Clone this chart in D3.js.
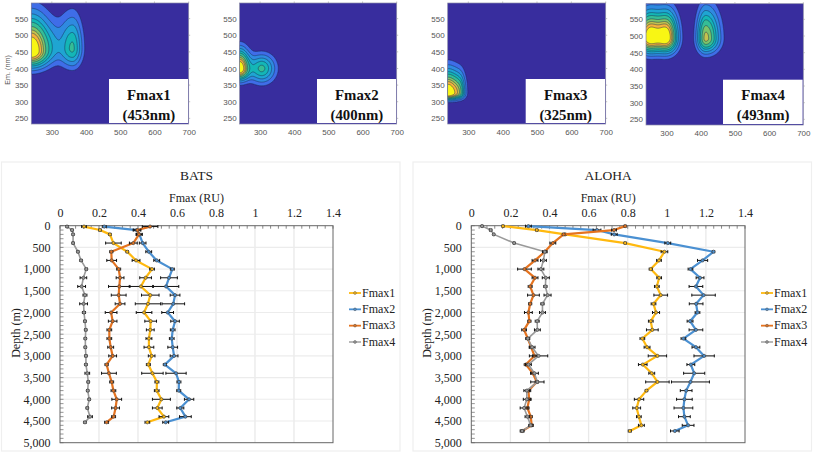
<!DOCTYPE html>
<html><head><meta charset="utf-8">
<script src="https://cdn.jsdelivr.net/npm/d3@7"></script>
<style>html,body{margin:0;padding:0;background:#fff}svg{display:block}</style>
</head><body><svg id="c" width="813" height="453"></svg>
<script>
// ---------- profile data ----------
const seriesNames = ["Fmax1","Fmax2","Fmax3","Fmax4"];
const batsDepth = [20,100,200,400,600,800,1000,1200,1400,1600,1800,2000,2200,2400,2600,2800,3000,3200,3400,3600,3800,4000,4200,4400,4530];
const batsF1 = [.123,.205,.256,.274,.345,.39,.472,.439,.415,.463,.451,.431,.465,.463,.456,.456,.47,.453,.474,.497,.496,.52,.499,.533,.448];
const batsF2 = [.227,.393,.407,.424,.455,.496,.576,.559,.544,.59,.581,.552,.59,.578,.573,.578,.585,.538,.595,.61,.609,.662,.617,.643,.542];
const batsF3 = [.462,.397,.405,.376,.263,.265,.301,.308,.304,.301,.308,.262,.27,.253,.253,.26,.27,.239,.251,.265,.274,.291,.285,.275,.239];
const batsF4 = [.036,.062,.067,.067,.092,.108,.135,.12,.111,.128,.121,.123,.128,.132,.13,.13,.133,.133,.14,.145,.142,.15,.14,.154,.128];
const batsE1 = [.012,.006,.006,.04,.006,.02,.012,.03,.06,.045,.065,.04,.03,.02,.015,.025,.017,.01,.055,.01,.012,.046,.025,.025,.012];
const batsE2 = [.01,.018,.015,.017,.015,.015,.01,.043,.065,.025,.058,.03,.022,.012,.012,.025,.02,.008,.052,.01,.01,.024,.018,.03,.015];
const batsE3 = [.04,.018,.015,.02,.008,.025,.01,.02,.055,.038,.025,.03,.022,.012,.012,.015,.02,.008,.038,.01,.012,.025,.02,.01,.01];
const batsE4 = [.005,.005,.005,.005,.005,.006,.006,.017,.02,.01,.02,.008,.006,.006,.006,.006,.006,.006,.012,.006,.006,.006,.006,.012,.006];

const alohaDepth = [10,100,200,400,600,800,1000,1200,1400,1600,1800,2000,2200,2400,2600,2800,3000,3200,3400,3600,3800,4000,4200,4400,4600,4730];
const alohaF1 = [.162,.335,.48,.787,.988,.96,.918,.961,.949,.969,.932,.945,.918,.926,.875,.899,.952,.877,.923,.952,.896,.858,.846,.857,.87,.811];
const alohaF2 = [.292,.643,.731,1.005,1.239,1.183,1.121,1.17,1.149,1.188,1.15,1.157,1.119,1.149,1.085,1.149,1.191,1.123,1.14,1.121,1.099,1.09,1.085,1.09,1.109,1.041];
const alohaF3 = [.787,.73,.472,.417,.376,.326,.272,.326,.301,.318,.301,.292,.297,.27,.289,.306,.323,.279,.315,.335,.292,.296,.287,.304,.309,.26];
const alohaF4 = [.055,.099,.115,.219,.376,.369,.356,.381,.379,.39,.364,.364,.337,.338,.289,.311,.344,.292,.323,.338,.284,.284,.27,.287,.304,.26];
const alohaE1 = [.005,.005,.005,.005,.017,.012,.008,.012,.012,.035,.012,.018,.012,.03,.012,.015,.047,.022,.015,.06,.006,.024,.02,.012,.015,.008];
const alohaE2 = [.015,.02,.015,.015,.006,.026,.012,.02,.035,.06,.035,.012,.015,.035,.012,.02,.052,.02,.054,.097,.03,.04,.048,.03,.03,.022];
const alohaE3 = [.005,.012,.006,.015,.008,.015,.035,.015,.01,.03,.008,.02,.008,.012,.008,.008,.01,.008,.008,.008,.012,.01,.008,.008,.008,.006];
const alohaE4 = [.004,.006,.004,.004,.012,.015,.015,.018,.008,.018,.008,.015,.01,.015,.01,.015,.047,.015,.02,.034,.015,.018,.02,.012,.01,.01];

const xTicks = [0,.2,.4,.6,.8,1,1.2,1.4];
const depthTicks = [0,500,1000,1500,2000,2500,3000,3500,4000,4500,5000];
const lineColors = ["#ffb90f","#4a90d2","#e5731f","#9a9a9a"];

// ---------- EEM panels: peaks ----------
// each peak: excitation, emission, width left, width right, width down, width up, height
const eemNames = ["Fmax1","Fmax2","Fmax3","Fmax4"];
const eemLabels = ["(453nm)","(400nm)","(325nm)","(493nm)"];
const eem1Peaks = [[240,453,34,34,29,62,1.1],[360,460,24,18,33,60,.44],[305,470,18,18,30,45,.09]];
const eem2Peaks = [[240,400,18,18,21,34,1.05],[305,400,24,24,26,26,.45]];
const eem3Peaks = [[240,325,20,20,11.5,42,1.05],[275,328,15,11,12,38,.42]];
const eem4Peaks = [[250,495,22,22,27,48,1],[300,495,22,20,27,48,1],[415,493,16,24,26,55,.7]];
const levels = [.06,.13,.22,.32,.42,.55,.66,.76,.88];
const levelColors = ["#3f6de8","#2f8ae0","#1fa5d2","#14b6b6","#35bd96","#7cc46a","#c4c24e","#f5b23c","#f8f614"];
const bgColor = "#382d9e";
const exTicks = [300,400,500,600,700];
const emTicks = [250,300,350,400,450,500,550];

const svg = d3.select("#c");
const SERIF = "'Liberation Serif','Times New Roman',serif";
const SANS = "'Liberation Sans',Arial,sans-serif";

// ---- EEM panels ----
const panels = [
 {peaks:eem1Peaks,x0:31.3,x1:188.7,y0:3,y1:124,box:109},
 {peaks:eem2Peaks,x0:239.6,x1:396.7,y0:3,y1:124,box:317},
 {peaks:eem3Peaks,x0:447.7,x1:605.7,y0:3,y1:124,box:525.7},
 {peaks:eem4Peaks,x0:646,x1:803.3,y0:3.7,y1:125,box:723}
];
const exMin=240, exMax=700, emMin=233, emMax=597, gridStep=2;
const nx=(exMax-exMin)/gridStep+1, ny=(emMax-emMin)/gridStep+1;
panels.forEach((p,i)=>{
  const sx=d3.scaleLinear([exMin,exMax],[p.x0,p.x1]);
  const sy=d3.scaleLinear([emMin,emMax],[p.y1,p.y0]);
  const g=svg.append("g");
  const cid="clip"+i;
  g.append("clipPath").attr("id",cid).append("rect").attr("x",p.x0).attr("y",p.y0).attr("width",p.x1-p.x0).attr("height",p.y1-p.y0);
  g.append("rect").attr("x",p.x0).attr("y",p.y0).attr("width",p.x1-p.x0).attr("height",p.y1-p.y0).attr("fill",bgColor);
  const vals=new Float64Array(nx*ny);
  for(let r=0;r<ny;r++)for(let c=0;c<nx;c++){
    const ex=exMin+c*gridStep, em=emMin+r*gridStep; let v=0;
    p.peaks.forEach(k=>{
      const dx=ex-k[0], dy=em-k[1];
      const wx=dx<0?k[2]:k[3], wy=dy<0?k[4]:k[5];
      v+=k[6]*Math.exp(-.5*(dx*dx/(wx*wx)+dy*dy/(wy*wy)));
    });
    vals[r*nx+c]=v;
  }
  const cs=d3.contours().size([nx,ny]).thresholds(levels).smooth(true)(Array.from(vals));
  const proj=d3.geoTransform({point(x,y){this.stream.point(sx(exMin+(x-.5)*gridStep),sy(emMin+(y-.5)*gridStep));}});
  const path=d3.geoPath(proj);
  g.append("g").attr("clip-path",`url(#${cid})`).selectAll("path").data(cs).join("path")
    .attr("d",path).attr("fill",(d,j)=>levelColors[j])
    .attr("stroke","#1a2a50").attr("stroke-width",.6).attr("stroke-opacity",.8);
  g.append("rect").attr("x",p.x0).attr("y",p.y0).attr("width",p.x1-p.x0).attr("height",p.y1-p.y0).attr("fill","none").attr("stroke","#8a8aa8").attr("stroke-width",.7);
  const ax=g.append("g").attr("transform",`translate(0,${p.y1})`).call(d3.axisBottom(sx).tickValues(exTicks).tickSize(0).tickPadding(5));
  const ay=g.append("g").attr("transform",`translate(${p.x0},0)`).call(d3.axisLeft(sy).tickValues(emTicks).tickSize(0).tickPadding(3));
  [ax,ay].forEach(a=>{a.select(".domain").remove();a.selectAll("text").attr("font-family",SANS).attr("font-size",8).attr("fill","#555");});
  // small ticks along top and right edges
  exTicks.forEach(t=>g.append("line").attr("x1",sx(t)).attr("x2",sx(t)).attr("y1",p.y0-1.5).attr("y2",p.y0).attr("stroke","#999").attr("stroke-width",.6));
  emTicks.forEach(t=>g.append("line").attr("x1",p.x1).attr("x2",p.x1+1.5).attr("y1",sy(t)).attr("y2",sy(t)).attr("stroke","#999").attr("stroke-width",.6));
  // label box
  g.append("rect").attr("x",p.box).attr("y",p.y0+76).attr("width",p.x1-p.box-.7).attr("height",p.y1-p.y0-77).attr("fill","#fff");
  const cx=p.box+(p.x1-p.box)/2;
  g.append("text").attr("x",cx).attr("y",p.y0+96.5).attr("text-anchor","middle").attr("font-family",SERIF).attr("font-weight","bold").attr("font-size",14.8).attr("fill","#111").text(eemNames[i]);
  g.append("text").attr("x",cx).attr("y",p.y0+116.5).attr("text-anchor","middle").attr("font-family",SERIF).attr("font-weight","bold").attr("font-size",14.8).attr("fill","#111").text(eemLabels[i]);
});
svg.append("text").attr("transform","translate(10,70) rotate(-90)").attr("text-anchor","middle").attr("font-family",SANS).attr("font-size",7.2).attr("fill","#555").text("Em. (nm)");

// ---- profile charts ----
const charts = [
 {title:"BATS",depth:batsDepth,vals:[batsF1,batsF2,batsF3,batsF4],errs:[batsE1,batsE2,batsE3,batsE4],card:[1.5,400],x0:60,x1:333,legX:349,depthX:20},
 {title:"ALOHA",depth:alohaDepth,vals:[alohaF1,alohaF2,alohaF3,alohaF4],errs:[alohaE1,alohaE2,alohaE3,alohaE4],card:[413,811.5],x0:471.3,x1:745,legX:761,depthX:430.5}
];
const yTop=225.7, yBot=442.7;
charts.forEach(c=>{
  const g=svg.append("g");
  g.append("rect").attr("x",c.card[0]).attr("y",162).attr("width",c.card[1]-c.card[0]).attr("height",289).attr("fill","#fff").attr("stroke","#efefef").attr("stroke-width",1.2);
  const x=d3.scaleLinear([0,1.4],[c.x0,c.x1]);
  const y=d3.scaleLinear([0,5000],[yTop,yBot]);
  // grid
  g.append("g").selectAll("line").data(xTicks.slice(1,-1)).join("line").attr("x1",d=>x(d)).attr("x2",d=>x(d)).attr("y1",yTop).attr("y2",yBot).attr("stroke","#e9e9e9").attr("stroke-width",1.3);
  g.append("g").selectAll("line").data(depthTicks.slice(1,-1)).join("line").attr("x1",c.x0).attr("x2",c.x1).attr("y1",d=>y(d)).attr("y2",d=>y(d)).attr("stroke","#ececec").attr("stroke-width",1.1);
  // minor ticks inside
  g.append("g").selectAll("line").data(d3.range(0,1.4001,.04)).join("line").attr("x1",d=>x(d)).attr("x2",d=>x(d)).attr("y1",yTop).attr("y2",yTop+3).attr("stroke","#555").attr("stroke-width",.7);
  g.append("g").selectAll("line").data(d3.range(0,5001,100)).join("line").attr("x1",c.x0).attr("x2",c.x0+3.5).attr("y1",d=>y(d)).attr("y2",d=>y(d)).attr("stroke","#666").attr("stroke-width",.7);
  // axes
  const ax=g.append("g").attr("transform",`translate(0,${yTop})`).call(d3.axisTop(x).tickValues(xTicks).tickFormat(String).tickSize(0).tickPadding(9));
  const ay=g.append("g").attr("transform",`translate(${c.x0},0)`).call(d3.axisLeft(y).tickValues(depthTicks).tickFormat(d3.format(",")).tickSize(0).tickPadding(9.5));
  [ax,ay].forEach(a=>{a.select(".domain").remove();a.selectAll("text").attr("font-family",SERIF).attr("font-size",12).attr("fill","#222");});
  g.append("rect").attr("x",c.x0).attr("y",yTop).attr("width",c.x1-c.x0).attr("height",yBot-yTop).attr("fill","none").attr("stroke","#666").attr("stroke-width",1);
  const mid=(c.x0+c.x1)/2;
  g.append("text").attr("x",mid).attr("y",180).attr("text-anchor","middle").attr("font-family",SERIF).attr("font-size",13.5).attr("fill","#222").text(c.title);
  g.append("text").attr("x",mid).attr("y",202).attr("text-anchor","middle").attr("font-family",SERIF).attr("font-size",12).attr("fill","#222").text("Fmax (RU)");
  g.append("text").attr("transform",`translate(${c.depthX},333) rotate(-90)`).attr("text-anchor","middle").attr("font-family",SERIF).attr("font-size",12).attr("fill","#222").text("Depth (m)");
  // series
  c.vals.forEach((v,i)=>{
    const pts=c.depth.map((d,k)=>({d,v:v[k],e:c.errs[i][k]}));
    const s=g.append("g");
    s.append("path").datum(pts).attr("fill","none").attr("stroke",lineColors[i]).attr("stroke-width",i==3?1.6:2.2)
      .attr("stroke-linejoin","round").attr("d",d3.line().x(d=>x(d.v)).y(d=>y(d.d)));
    const eb=s.append("g").attr("stroke","#111").attr("stroke-width",1);
    eb.selectAll(".h").data(pts).join("line").attr("x1",d=>x(d.v-d.e)).attr("x2",d=>x(d.v+d.e)).attr("y1",d=>y(d.d)).attr("y2",d=>y(d.d));
    eb.selectAll(".l").data(pts).join("line").attr("x1",d=>x(d.v-d.e)).attr("x2",d=>x(d.v-d.e)).attr("y1",d=>y(d.d)-1.5).attr("y2",d=>y(d.d)+1.5);
    eb.selectAll(".r").data(pts).join("line").attr("x1",d=>x(d.v+d.e)).attr("x2",d=>x(d.v+d.e)).attr("y1",d=>y(d.d)-1.5).attr("y2",d=>y(d.d)+1.5);
    s.selectAll("circle").data(pts).join("circle").attr("cx",d=>x(d.v)).attr("cy",d=>y(d.d)).attr("r",1.6)
      .attr("fill",lineColors[i]).attr("stroke","#444").attr("stroke-width",.7);
  });
  // legend
  const ly=d3.scalePoint(seriesNames,[293,342]);
  seriesNames.forEach((n,i)=>{
    const yy=ly(n);
    g.append("line").attr("x1",c.legX).attr("x2",c.legX+12).attr("y1",yy).attr("y2",yy).attr("stroke",lineColors[i]).attr("stroke-width",i==3?1.4:1.8);
    g.append("circle").attr("cx",c.legX+6).attr("cy",yy).attr("r",1.4).attr("fill",lineColors[i]).attr("stroke","#555").attr("stroke-width",.5);
    g.append("text").attr("x",c.legX+13).attr("y",yy+3.8).attr("font-family",SERIF).attr("font-size",12).attr("fill","#222").text(n);
  });
});
</script></body></html>
